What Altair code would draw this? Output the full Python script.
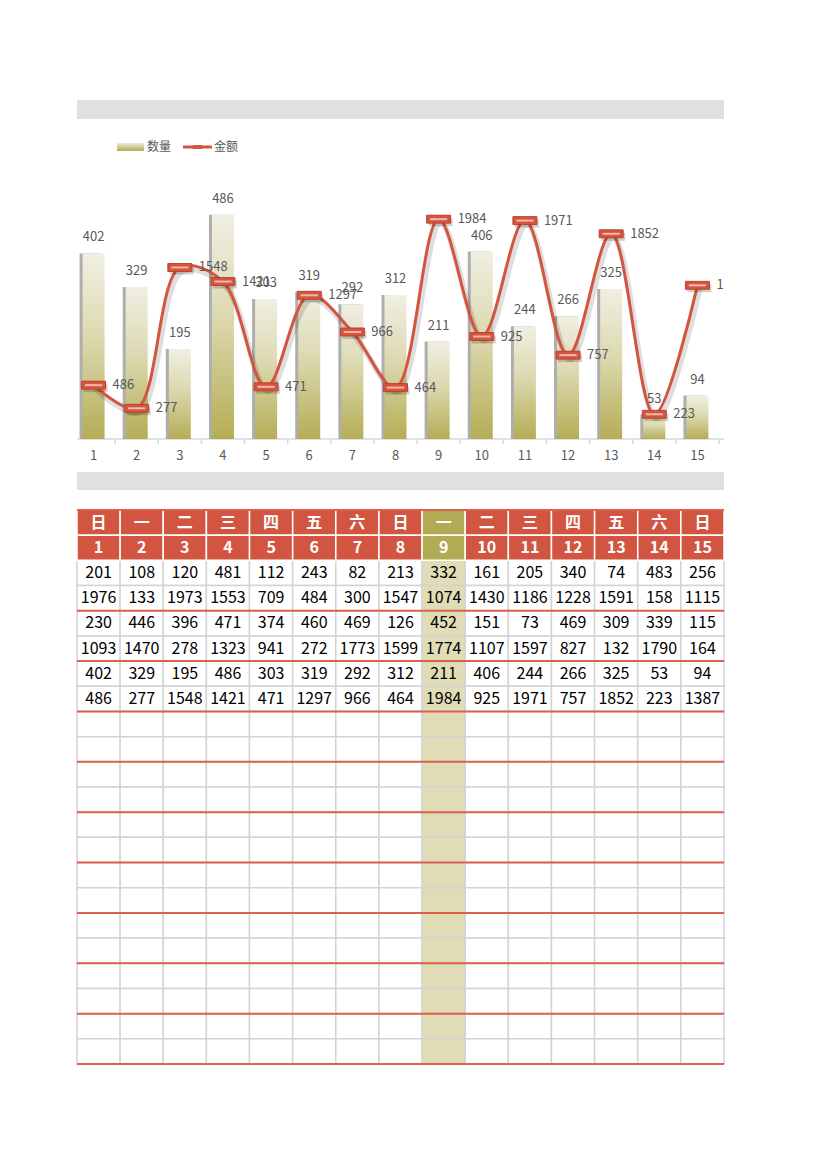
import altair as alt
import pandas as pd

# ---------------- data ----------------
days = ["日", "一", "二", "三", "四", "五", "六", "日", "一", "二", "三", "四", "五", "六", "日"]
dates = list(range(1, 16))
row1 = [201, 108, 120, 481, 112, 243, 82, 213, 332, 161, 205, 340, 74, 483, 256]
row2 = [1976, 133, 1973, 1553, 709, 484, 300, 1547, 1074, 1430, 1186, 1228, 1591, 158, 1115]
row3 = [230, 446, 396, 471, 374, 460, 469, 126, 452, 151, 73, 469, 309, 339, 115]
row4 = [1093, 1470, 278, 1323, 941, 272, 1773, 1599, 1774, 1107, 1597, 827, 132, 1790, 164]
qty = [402, 329, 195, 486, 303, 319, 292, 312, 211, 406, 244, 266, 325, 53, 94]          # 数量
amt = [486, 277, 1548, 1421, 471, 1297, 966, 464, 1984, 925, 1971, 757, 1852, 223, 1387]  # 金额
highlight_col = 9
empty_rows = 14

FONT = "Noto Sans CJK SC"
RED = "#d25542"
OLIVE = "#b3aa56"
OLIVE_LIGHT = "#dfdcb6"
GRAY_TXT = "#595959"

W = 647
CH = 390     # chart panel height
TH = 554     # table panel height

# ---------------- chart panel ----------------
df = pd.DataFrame({"d": dates, "qty": qty, "amt": amt})
one = pd.DataFrame({"a": [0]})

xs = alt.Scale(domain=dates, range=[-5, 642], paddingInner=0, paddingOuter=0)
X = alt.X("d:O", scale=xs, axis=None)
ys_bar = alt.Scale(domain=[0, 600], range=[339, 62])
ys_line = alt.Scale(domain=[0, 2500], range=[339, 62])

bar_grad = alt.Gradient(
    gradient="linear",
    stops=[alt.GradientStop(color="#f0efe3", offset=0),
           alt.GradientStop(color="#dcd9b0", offset=0.45),
           alt.GradientStop(color="#b5ad55", offset=1)],
    x1=0, x2=0, y1=0, y2=1)

band_top = alt.Chart(one).mark_rect(color="#e0e0e0").encode(
    x=alt.value(0), x2=alt.value(W), y=alt.value(0), y2=alt.value(19))
band_bot = alt.Chart(one).mark_rect(color="#e0e0e0").encode(
    x=alt.value(0), x2=alt.value(W), y=alt.value(372), y2=alt.value(390))

# legend
leg_sw = alt.Chart(one).mark_rect(color=alt.Gradient(
    gradient="linear",
    stops=[alt.GradientStop(color="#ecebd8", offset=0),
           alt.GradientStop(color="#b5ad55", offset=1)],
    x1=0, x2=0, y1=0, y2=1)).encode(
    x=alt.value(40), x2=alt.value(67), y=alt.value(43), y2=alt.value(51))
leg_t1 = alt.Chart(one).mark_text(text="数量", font=FONT, fontSize=12, color=GRAY_TXT,
                                  align="left", baseline="middle").encode(
    x=alt.value(70), y=alt.value(47))
leg_line = alt.Chart(one).mark_rule(color="#d4553f", strokeWidth=3).encode(
    x=alt.value(106), x2=alt.value(135), y=alt.value(47))
leg_mk = alt.Chart(one).mark_rect(color="#d4553f", cornerRadius=2).encode(
    x=alt.value(115), x2=alt.value(126), y=alt.value(45), y2=alt.value(49))
leg_t2 = alt.Chart(one).mark_text(text="金额", font=FONT, fontSize=12, color=GRAY_TXT,
                                  align="left", baseline="middle").encode(
    x=alt.value(137), y=alt.value(47))

axis_line = alt.Chart(one).mark_rule(color="#d9d9d9", strokeWidth=1.5).encode(
    x=alt.value(0), x2=alt.value(W), y=alt.value(339))
ticks = alt.Chart(df).mark_rule(color="#d9d9d9", strokeWidth=1.5, xOffset=21.57).encode(
    x=X, y=alt.value(339), y2=alt.value(344))
xlabels = alt.Chart(df).mark_text(font=FONT, fontSize=13, color=GRAY_TXT,
                                  baseline="middle").encode(
    x=X, y=alt.value(356), text="d:O")

bar_shadow = alt.Chart(df).mark_bar(size=22, color="#9a9a9a", xOffset=-3, opacity=0.8).encode(
    x=X, y=alt.Y("qty:Q", scale=ys_bar, axis=None))
bars = alt.Chart(df).mark_bar(size=22, color=bar_grad).encode(
    x=X, y=alt.Y("qty:Q", scale=ys_bar, axis=None))
bar_lbl = alt.Chart(df).mark_text(font=FONT, fontSize=13, color=GRAY_TXT, dy=-16,
                                  baseline="middle").encode(
    x=X, y=alt.Y("qty:Q", scale=ys_bar, axis=None), text="qty:Q")

YL = alt.Y("amt:Q", scale=ys_line, axis=None)
line_shadow = alt.Chart(df).mark_line(interpolate="catmull-rom", color="#000000",
                                      opacity=0.13, strokeWidth=6, xOffset=2, yOffset=4).encode(x=X, y=YL)
line = alt.Chart(df).mark_line(interpolate="catmull-rom", color="#d4553f",
                               strokeWidth=3).encode(x=X, y=YL)
marker_shadow = alt.Chart(df).mark_point(
    shape="M-1,-0.33L1,-0.33L1,0.33L-1,0.33Z", size=576, filled=True,
    color="#000000", opacity=0.18, xOffset=2, yOffset=3).encode(x=X, y=YL)
markers = alt.Chart(df).mark_point(
    shape="M-1,-0.33L1,-0.33L1,0.33L-1,0.33Z", size=576, filled=True,
    fill="#d4553f", stroke="#c0412d", strokeWidth=1, opacity=1).encode(x=X, y=YL)
marker_hi = alt.Chart(df).mark_point(
    shape="M-0.72,0L0.72,0", size=576, filled=False,
    stroke="#f4b7ab", strokeWidth=2, opacity=1).encode(x=X, y=YL)
line_lbl = alt.Chart(df).mark_text(font=FONT, fontSize=13, color=GRAY_TXT, dx=19,
                                   align="left", baseline="middle", clip=True).encode(
    x=X, y=YL, text="amt:Q")

chart_panel = alt.layer(
    band_top, band_bot, leg_sw, leg_t1, leg_line, leg_mk, leg_t2,
    axis_line, ticks, xlabels,
    bar_shadow, bars, bar_lbl,
    line_shadow, line, marker_shadow, markers, marker_hi, line_lbl
).resolve_scale(y="independent").properties(width=W, height=CH)

# ---------------- table panel ----------------
body_rows = [row1, row2, row3, row4, qty, amt]
n_rows = 2 + len(body_rows) + empty_rows
recs = []
for ci in range(15):
    hl = (dates[ci] == highlight_col)
    recs.append(dict(c0=ci, c1=ci + 1, r0=0, r1=1, txt=days[ci],
                     fill=OLIVE if hl else RED, stroke="#ffffff", head=1))
    recs.append(dict(c0=ci, c1=ci + 1, r0=1, r1=2, txt=str(dates[ci]),
                     fill=OLIVE if hl else RED, stroke="#ffffff", head=1))
    for ri, rd in enumerate(body_rows):
        recs.append(dict(c0=ci, c1=ci + 1, r0=2 + ri, r1=3 + ri, txt=str(rd[ci]),
                         fill=OLIVE_LIGHT if hl else "#ffffff", stroke="#d3d3d3", head=0))
    for e in range(empty_rows):
        r = 2 + len(body_rows) + e
        recs.append(dict(c0=ci, c1=ci + 1, r0=r, r1=r + 1, txt="",
                         fill=OLIVE_LIGHT if hl else "#ffffff", stroke="#d3d3d3", head=0))
tdf = pd.DataFrame(recs)

tx = alt.Scale(domain=[0, 15], range=[0, W])
ty = alt.Scale(domain=[0, n_rows], range=[0, TH])

base = alt.Chart(tdf).transform_calculate(cx="(datum.c0 + datum.c1) / 2",
                                          cy="(datum.r0 + datum.r1) / 2")
cells_body = base.transform_filter("datum.head == 0").mark_rect(strokeWidth=1.5).encode(
    x=alt.X("c0:Q", scale=tx, axis=None), x2="c1:Q",
    y=alt.Y("r0:Q", scale=ty, axis=None), y2="r1:Q",
    fill=alt.Fill("fill:N", scale=None), stroke=alt.Stroke("stroke:N", scale=None))
cells_head = base.transform_filter("datum.head == 1").mark_rect(strokeWidth=1.5).encode(
    x=alt.X("c0:Q", scale=tx, axis=None), x2="c1:Q",
    y=alt.Y("r0:Q", scale=ty, axis=None), y2="r1:Q",
    fill=alt.Fill("fill:N", scale=None), stroke=alt.Stroke("stroke:N", scale=None))
txt_body = base.transform_filter("datum.head == 0").mark_text(
    font=FONT, fontSize=16, color="#000000", baseline="middle").encode(
    x=alt.X("cx:Q", scale=tx, axis=None), y=alt.Y("cy:Q", scale=ty, axis=None), text="txt:N")
txt_head = base.transform_filter("datum.head == 1").mark_text(
    font=FONT, fontSize=16, fontWeight="bold", color="#ffffff", baseline="middle").encode(
    x=alt.X("cx:Q", scale=tx, axis=None), y=alt.Y("cy:Q", scale=ty, axis=None), text="txt:N")

bounds = [0] + list(range(4, n_rows + 1, 2))
rdf = pd.DataFrame({"b": bounds, "x0": [0] * len(bounds), "x1": [15] * len(bounds)})
red_lines = alt.Chart(rdf).mark_rule(color="#dd604d", strokeWidth=2).encode(
    x=alt.X("x0:Q", scale=tx, axis=None), x2="x1:Q",
    y=alt.Y("b:Q", scale=ty, axis=None))

table_panel = alt.layer(cells_body, cells_head, txt_body, txt_head, red_lines).properties(
    width=W, height=TH)

chart = alt.vconcat(chart_panel, table_panel, spacing=19).properties(
    padding={"left": 76, "top": 100, "right": 20, "bottom": 20}
).configure_view(stroke=None)

chart.save("out.html", embed_options={"renderer": "svg", "actions": False})
